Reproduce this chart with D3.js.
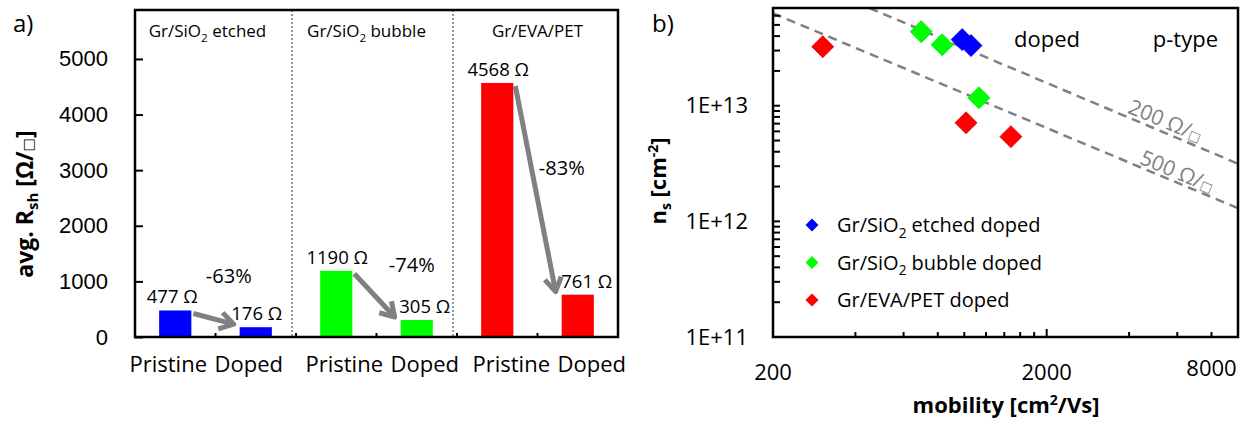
<!DOCTYPE html>
<html lang="en">
<head>
<meta charset="UTF-8">
<title>Sheet resistance and carrier density of doped graphene</title>
<style>
  body { margin: 0; background: #fff; }
  svg { display: block; font-family: "Open Sans", "DejaVu Sans", sans-serif; }
</style>
</head>
<body>
<div id="chart"></div>
<script src="https://cdn.jsdelivr.net/npm/d3@7"></script>
<script>
// ---- panel a) values ----
const groups = ["Gr/SiO2 etched", "Gr/SiO2 bubble", "Gr/EVA/PET"];
const states = ["Pristine", "Doped"];
const pristine = [477, 1190, 4568];
const doped = [176, 305, 761];
const colors = ["#0000ff", "#00ff00", "#ff0000"];
const rshTicks = [0, 1000, 2000, 3000, 4000, 5000];

// ---- panel b) values ----
const etchedMob = [982, 1058];
const etchedNs = [3.73e13, 3.31e13];
const bubbleMob = [696, 830, 1131];
const bubbleNs = [4.37e13, 3.37e13, 1.17e13];
const evaMob = [304, 1015, 1480];
const evaNs = [3.24e13, 7.12e12, 5.40e12];
const legendNames = ["Gr/SiO2 etched doped", "Gr/SiO2 bubble doped", "Gr/EVA/PET doped"];
const iso200Mob = [450, 10000];
const iso200Ns = [7e13, 3.15e12];
const iso500Mob = [200, 10000];
const iso500Ns = [6.3e13, 1.3e12];
const nsTicks = [1e11, 1e12, 1e13];
const mobTicks = [200, 2000, 8000];

const W = 1255, H = 425;
const grey = "#808080";
const svg = d3.select("#chart").append("svg").attr("width", W).attr("height", H);

// writes "SiO2" with a subscript 2
function withSub(text, str, size) {
  const parts = str.split(/(?<=SiO)2/);
  text.append("tspan").text(parts[0]);
  if (parts.length > 1) {
    text.append("tspan").attr("font-size", size * 0.68).attr("dy", size * 0.28).text("2");
    text.append("tspan").attr("dy", -size * 0.28).text(parts[1]);
  }
}
// "Ω/□" unit with a smaller square, like the original
function ohmSq(text, size) {
  text.append("tspan").text("Ω/");
  text.append("tspan").attr("font-size", size * 0.62).attr("font-weight", "normal").text("□");
}

// ================= a) =================
const A = { left: 135, right: 618, top: 10, bottom: 337 };
const cats = d3.range(groups.length * states.length);
const xa = d3.scaleBand().domain(cats).range([A.left, A.right]).paddingInner(0.6).paddingOuter(0.3);
const ya = d3.scaleLinear().domain([0, 5880]).range([A.bottom, A.top]);
const step = xa.step(), bw = xa.bandwidth();
const bars = cats.map(i => {
  const g = Math.floor(i / 2), s = i % 2;
  return { i, g, s, v: s ? doped[g] : pristine[g] };
});

const ga = svg.append("g");

// group separators
[1, 2].forEach(k => {
  const xb = xa(k * 2) - step * 0.3 - 4;
  ga.append("line").attr("x1", xb).attr("x2", xb).attr("y1", A.top).attr("y2", A.bottom)
    .attr("stroke", "#999").attr("stroke-width", 2).attr("stroke-dasharray", "2,2");
});

ga.selectAll("rect.bar").data(bars).join("rect").attr("class", "bar")
  .attr("x", d => xa(d.i)).attr("y", d => ya(d.v))
  .attr("width", bw).attr("height", d => ya(0) - ya(d.v))
  .attr("fill", d => colors[d.g]);

// value labels
const labelDx = [-3, 1, 1, 8, 1, 9];
ga.selectAll("text.val").data(bars).join("text").attr("class", "val")
  .attr("x", d => xa(d.i) + bw / 2 + labelDx[d.i]).attr("y", d => ya(d.v) - 7)
  .attr("text-anchor", "middle").attr("font-size", 18.5)
  .text(d => d.v + " Ω");

// arrows pristine -> doped
function arrow(g, x1, y1, x2, y2) {
  const ang = Math.atan2(y2 - y1, x2 - x1), len = 16, spread = 0.55;
  g.append("line").attr("x1", x1).attr("y1", y1).attr("x2", x2 - Math.cos(ang) * 2).attr("y2", y2 - Math.sin(ang) * 2);
  g.append("path").attr("d", `M${x2 - len * Math.cos(ang - spread)},${y2 - len * Math.sin(ang - spread)}L${x2},${y2}L${x2 - len * Math.cos(ang + spread)},${y2 - len * Math.sin(ang + spread)}`)
    .attr("fill", "none");
}
const ag = ga.append("g").attr("stroke", grey).attr("stroke-width", 5).attr("stroke-linejoin", "round");
groups.forEach((_, g) => {
  const p = 2 * g, q = 2 * g + 1;
  arrow(ag, xa(p) + bw + 2, ya(pristine[g]) + 3, xa(q) - 6, ya(doped[g]) - 3);
});

// percentage change labels
const pctAt = [{ dx: -27, v: 970 }, { dx: -5, v: 1170 }, { dx: -16, v: 2910 }];
groups.forEach((_, g) => {
  const pct = Math.round((doped[g] - pristine[g]) / pristine[g] * 100);
  ga.append("text").attr("x", xa(2 * g + 1) + bw / 2 + pctAt[g].dx).attr("y", ya(pctAt[g].v))
    .attr("text-anchor", "middle").attr("font-size", 20).text(pct + "%");
});

// group titles
const titleDx = [-8, -10, 0];
groups.forEach((name, g) => {
  const cx = (xa(2 * g) + xa(2 * g + 1) + bw) / 2 + titleDx[g];
  const t = ga.append("text").attr("x", cx).attr("y", 37).attr("text-anchor", "middle").attr("font-size", 17);
  withSub(t, name, 17);
});

// y axis
ga.append("g").attr("transform", `translate(${A.left},0)`)
  .call(d3.axisLeft(ya).tickValues(rshTicks).tickFormat(d3.format("d")).tickSize(-8).tickPadding(27))
  .call(g => g.select(".domain").remove())
  .call(g => g.selectAll("line").attr("stroke", "#000").attr("stroke-width", 2))
  .call(g => g.selectAll("text").attr("font-size", 22).attr("font-family", null).attr("fill", "#000"));

// category ticks and labels
d3.range(1, cats.length).forEach(k => {
  const xt = xa(k) - step * 0.3;
  ga.append("line").attr("x1", xt).attr("x2", xt).attr("y1", A.bottom).attr("y2", A.bottom - 4)
    .attr("stroke", "#000").attr("stroke-width", 2);
});
const catDx = [-7, 8, 14];
ga.selectAll("text.cat").data(bars).join("text").attr("class", "cat")
  .attr("x", d => xa(d.i) + bw / 2 + catDx[d.g]).attr("y", 372)
  .attr("text-anchor", "middle").attr("font-size", 22).text(d => states[d.s]);

ga.append("rect").attr("x", A.left).attr("y", A.top).attr("width", A.right - A.left).attr("height", A.bottom - A.top)
  .attr("fill", "none").attr("stroke", "#000").attr("stroke-width", 2.5);

const yt = ga.append("text").attr("transform", "translate(33,204) rotate(-90)").attr("text-anchor", "middle")
  .attr("font-size", 23).attr("font-weight", "bold");
yt.append("tspan").text("avg. R");
yt.append("tspan").attr("font-size", 15).attr("dy", 5).text("sh");
yt.append("tspan").attr("dy", -5).text(" [");
ohmSq(yt, 23);
yt.append("tspan").text("]");

svg.append("text").attr("x", 13).attr("y", 32).attr("font-size", 24).text("a)");

// ================= b) =================
const B = { left: 773, right: 1238, top: 8, bottom: 337 };
const xb = d3.scaleLog().domain([200, 10000]).range([B.left, B.right]);
const yb = d3.scaleLog().domain([1e11, 7e13]).range([B.bottom, B.top]);
const gb = svg.append("g");

gb.append("clipPath").attr("id", "clipB").append("rect")
  .attr("x", B.left).attr("y", B.top).attr("width", B.right - B.left).attr("height", B.bottom - B.top);

// constant sheet resistance lines
const isoLines = [
  { label: "200 ", mob: iso200Mob, ns: iso200Ns, at: 5240, dy: -4 },
  { label: "500 ", mob: iso500Mob, ns: iso500Ns, at: 5800, dy: -3 }
];
const line = d3.line().x(d => xb(d[0])).y(d => yb(d[1]));
isoLines.forEach(l => {
  const pts = l.mob.map((m, i) => [m, l.ns[i]]);
  gb.append("path").attr("d", line(pts)).attr("clip-path", "url(#clipB)")
    .attr("fill", "none").attr("stroke", grey).attr("stroke-width", 2.5).attr("stroke-dasharray", "9,6");
  const x0 = xb(pts[0][0]), y0 = yb(pts[0][1]), x1 = xb(pts[1][0]), y1 = yb(pts[1][1]);
  const ang = Math.atan2(y1 - y0, x1 - x0) * 180 / Math.PI;
  const tx = xb(l.at), ty = y0 + (y1 - y0) * (tx - x0) / (x1 - x0);
  const t = gb.append("text").attr("transform", `translate(${tx},${ty}) rotate(${ang})`).attr("dy", l.dy)
    .attr("text-anchor", "middle").attr("font-size", 21).attr("fill", grey);
  t.append("tspan").text(l.label);
  ohmSq(t, 21);
});

// points
const diamond = r => `M0,${-r}L${r},0L0,${r}L${-r},0Z`;
const series = [
  { mob: etchedMob, ns: etchedNs, c: colors[0] },
  { mob: bubbleMob, ns: bubbleNs, c: colors[1] },
  { mob: evaMob, ns: evaNs, c: colors[2] }
];
series.forEach(s => {
  gb.append("g").selectAll("path").data(s.mob.map((m, i) => [m, s.ns[i]])).join("path")
    .attr("d", diamond(11)).attr("transform", d => `translate(${xb(d[0])},${yb(d[1])})`)
    .attr("fill", s.c).attr("stroke", d3.color(s.c).darker(0.4)).attr("stroke-width", 0.8);
});

// y ticks (all minor decades)
const yMinor = [];
nsTicks.forEach(t => d3.range(1, 10).forEach(k => { if (t * k <= 7e13) yMinor.push(t * k); }));
gb.selectAll("line.yt").data(yMinor).join("line").attr("class", "yt")
  .attr("x1", B.left).attr("x2", B.left + 7).attr("y1", d => yb(d)).attr("y2", d => yb(d))
  .attr("stroke", "#000").attr("stroke-width", 2);
gb.selectAll("text.yl").data(nsTicks).join("text").attr("class", "yl")
  .attr("x", 748).attr("y", d => yb(d)).attr("dy", "0.35em").attr("text-anchor", "end").attr("font-size", 22)
  .text(d => "1E+" + Math.round(Math.log10(d)));

// x ticks
const xMinor = d3.range(2, 11).map(k => 200 * k).concat(d3.range(2, 5).map(k => 2000 * k));
gb.selectAll("line.xt").data(xMinor).join("line").attr("class", "xt")
  .attr("x1", d => xb(d)).attr("x2", d => xb(d)).attr("y1", B.bottom)
  .attr("y2", d => B.bottom - (d === 2000 ? 8 : 5))
  .attr("stroke", "#000").attr("stroke-width", 2);
gb.selectAll("text.xl").data(mobTicks).join("text").attr("class", "xl")
  .attr("x", d => xb(d)).attr("y", d => d === 8000 ? 376 : 380).attr("text-anchor", "middle").attr("font-size", 22)
  .text(d => d);

gb.append("rect").attr("x", B.left).attr("y", B.top).attr("width", B.right - B.left).attr("height", B.bottom - B.top)
  .attr("fill", "none").attr("stroke", "#000").attr("stroke-width", 2.5);

// annotations
gb.append("text").attr("x", 1080).attr("y", 47).attr("text-anchor", "end").attr("font-size", 22).text("doped");
gb.append("text").attr("x", 1218).attr("y", 47).attr("text-anchor", "end").attr("font-size", 22).text("p-type");

// legend
legendNames.forEach((name, i) => {
  const ly = 225 + i * 37.5;
  gb.append("path").attr("d", diamond(6.5)).attr("transform", `translate(812,${ly})`).attr("fill", colors[i]);
  const t = gb.append("text").attr("x", 837).attr("y", ly + 7).attr("font-size", 20);
  withSub(t, name, 20);
});

// axis titles
const xt = gb.append("text").attr("x", 1006).attr("y", 413).attr("text-anchor", "middle")
  .attr("font-size", 22).attr("font-weight", "bold");
xt.append("tspan").text("mobility [cm");
xt.append("tspan").attr("font-size", 14).attr("dy", -8).text("2");
xt.append("tspan").attr("dy", 8).text("/Vs]");

const nt = gb.append("text").attr("transform", "translate(666,181) rotate(-90)").attr("text-anchor", "middle")
  .attr("font-size", 22).attr("font-weight", "bold");
nt.append("tspan").text("n");
nt.append("tspan").attr("font-size", 14).attr("dy", 5).text("s");
nt.append("tspan").attr("dy", -5).text(" [cm");
nt.append("tspan").attr("font-size", 14).attr("dy", -8).text("-2");
nt.append("tspan").attr("dy", 8).text("]");

svg.append("text").attr("x", 652).attr("y", 32).attr("font-size", 24).text("b)");
</script>
</body>
</html>
